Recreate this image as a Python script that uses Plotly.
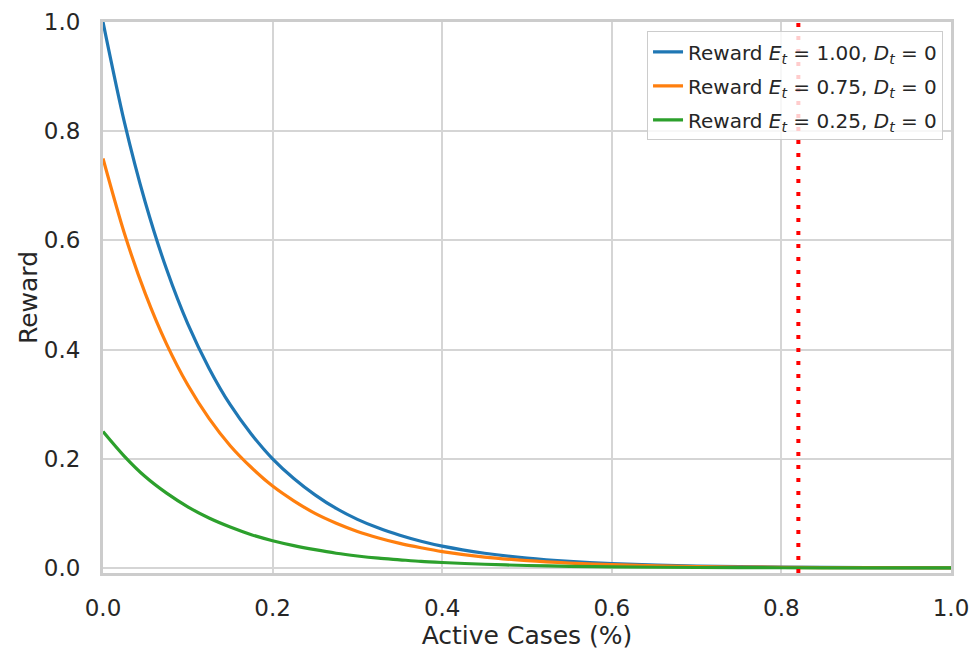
import plotly.graph_objects as go

# Active cases (%) sample positions and rewards
active_cases = [0.0, 0.025, 0.05, 0.075, 0.1, 0.125, 0.15, 0.175, 0.2, 0.225,
                0.25, 0.275, 0.3, 0.325, 0.35, 0.375, 0.4, 0.45, 0.5, 0.55,
                0.6, 0.7, 0.8, 0.9, 1.0]
reward_e100 = [1.0, 0.818, 0.669, 0.547, 0.447, 0.366, 0.299, 0.245, 0.200, 0.164,
               0.134, 0.109, 0.089, 0.073, 0.060, 0.049, 0.040, 0.027, 0.018, 0.012,
               0.008, 0.0036, 0.0016, 0.0007, 0.0003]
reward_e075 = [0.75, 0.614, 0.502, 0.410, 0.335, 0.274, 0.224, 0.184, 0.150, 0.123,
               0.100, 0.082, 0.067, 0.055, 0.045, 0.037, 0.030, 0.020, 0.0135, 0.009,
               0.006, 0.0027, 0.0012, 0.0005, 0.0002]
reward_e025 = [0.25, 0.205, 0.167, 0.137, 0.112, 0.0915, 0.075, 0.061, 0.050, 0.041,
               0.0335, 0.027, 0.022, 0.018, 0.015, 0.012, 0.010, 0.0068, 0.0045, 0.003,
               0.002, 0.0009, 0.0004, 0.0002, 0.0001]
threshold = 0.82

series_names = [
    "Reward <i>E</i><sub><i>t</i></sub> = 1.00, <i>D</i><sub><i>t</i></sub> = 0",
    "Reward <i>E</i><sub><i>t</i></sub> = 0.75, <i>D</i><sub><i>t</i></sub> = 0",
    "Reward <i>E</i><sub><i>t</i></sub> = 0.25, <i>D</i><sub><i>t</i></sub> = 0",
]
colors = ["#1f77b4", "#ff7f0e", "#2ca02c"]
x_ticks = [0.0, 0.2, 0.4, 0.6, 0.8, 1.0]
y_ticks = [0.0, 0.2, 0.4, 0.6, 0.8, 1.0]

FONT = "DejaVu Sans"
TXT = "#262626"

fig = go.Figure()
for i, (name, ys, c) in enumerate(zip(series_names, [reward_e100, reward_e075, reward_e025], colors)):
    fig.add_trace(go.Scatter(
        x=active_cases, y=ys, mode="lines", name=name,
        line=dict(color=c, width=3.2, shape="spline", smoothing=0.8),
        legendgroup=f"g{i}",
    ))

fig.add_vline(x=threshold, line=dict(color="red", width=4, dash="4px,9px"), layer="above")

fig.update_layout(
    width=979, height=650,
    margin=dict(l=103, r=28, t=22, b=77),
    paper_bgcolor="white", plot_bgcolor="white",
    font=dict(family=FONT, color=TXT, size=23),
    showlegend=True,
    legend=dict(
        x=0.9906, y=0.983, xanchor="right", yanchor="top",
        bgcolor="rgba(255,255,255,0.8)", bordercolor="#cccccc", borderwidth=1,
        font=dict(family=FONT, size=20, color=TXT),
        tracegroupgap=5, traceorder="grouped",
    ),
    xaxis=dict(
        range=[0, 1], tickvals=x_ticks, ticktext=[f"{v:.1f}" for v in x_ticks],
        showgrid=True, gridcolor="#d5d5d5", gridwidth=1.6,
        zeroline=False, showline=True, linecolor="#cccccc", linewidth=3, mirror=True,
        ticks="", ticklabelstandoff=12, automargin=False,
        title=dict(text="Active Cases (%)", font=dict(size=25, family=FONT, color=TXT), standoff=12),
        tickfont=dict(size=23, family=FONT, color=TXT),
    ),
    yaxis=dict(
        range=[-0.0092, 1.0], tickvals=y_ticks, ticktext=[f"{v:.1f}" for v in y_ticks],
        showgrid=True, gridcolor="#d5d5d5", gridwidth=1.6,
        zeroline=False, showline=True, linecolor="#cccccc", linewidth=3, mirror=True,
        ticks="", ticklabelstandoff=15, automargin=False,
        title=dict(text="Reward", font=dict(size=25, family=FONT, color=TXT), standoff=0),
        tickfont=dict(size=23, family=FONT, color=TXT),
    ),
)

fig.write_html("out.html")
